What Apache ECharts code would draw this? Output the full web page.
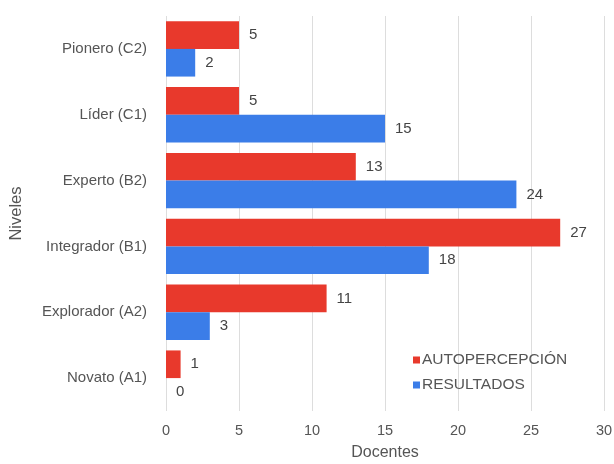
<!DOCTYPE html>
<html><head><meta charset="utf-8">
<script src="https://cdn.jsdelivr.net/npm/echarts@6/dist/echarts.min.js"></script>
<style>html,body{margin:0;padding:0;background:#fff}#c{width:614px;height:464px}</style>
</head><body><div id="c"></div>
<script>
const categories = ['Pionero (C2)', 'Líder (C1)', 'Experto (B2)', 'Integrador (B1)', 'Explorador (A2)', 'Novato (A1)'];
const autopercepcion = [5, 5, 13, 27, 11, 1];
const resultados = [2, 15, 24, 18, 3, 0];
const xTicks = [0, 5, 10, 15, 20, 25, 30];

const chart = echarts.init(document.getElementById('c'));
const font = 'Arial, "Liberation Sans", sans-serif';
chart.setOption({
  animation: false,
  textStyle: { fontFamily: font },
  grid: { left: 166, right: 10, top: 16, bottom: 53, containLabel: false, outerBoundsMode: 'none' },
  legend: {
    orient: 'vertical', left: 408, top: 347, itemWidth: 7, itemHeight: 7, itemGap: 9,
    icon: 'rect',
    textStyle: { color: '#555', fontSize: 15.5, fontFamily: font, padding: [0,0,0,-3] },
    data: ['AUTOPERCEPCIÓN', 'RESULTADOS']
  },
  xAxis: {
    type: 'value', min: xTicks[0], max: xTicks[xTicks.length-1], interval: 5,
    name: 'Docentes', nameLocation: 'middle', nameGap: 34,
    nameTextStyle: { color: '#555', fontSize: 16, fontFamily: font },
    axisLine: { show: false }, axisTick: { show: false },
    axisLabel: { color: '#555', fontSize: 14.5, margin: 12, fontFamily: font },
    splitLine: { lineStyle: { color: '#ddd', width: 1 } }
  },
  yAxis: {
    type: 'category', data: categories, inverse: true,
    name: 'Niveles', nameLocation: 'middle', nameGap: 141, nameRotate: 90,
    nameTextStyle: { color: '#555', fontSize: 16.5, fontFamily: font },
    axisLine: { show: false }, axisTick: { show: false },
    axisLabel: { color: '#555', fontSize: 15, margin: 19, fontFamily: font }
  },
  series: [
    { name: 'AUTOPERCEPCIÓN', type: 'bar', data: autopercepcion, barGap: '0%', barCategoryGap: '16%',
      itemStyle: { color: '#e8392c' },
      label: { show: true, position: 'right', color: '#444', fontSize: 15, distance: 10, fontFamily: font } },
    { name: 'RESULTADOS', type: 'bar', data: resultados, barGap: '0%', barCategoryGap: '16%',
      itemStyle: { color: '#3b7de8' },
      label: { show: true, position: 'right', color: '#444', fontSize: 15, distance: 10, fontFamily: font } }
  ]
});
</script></body></html>
